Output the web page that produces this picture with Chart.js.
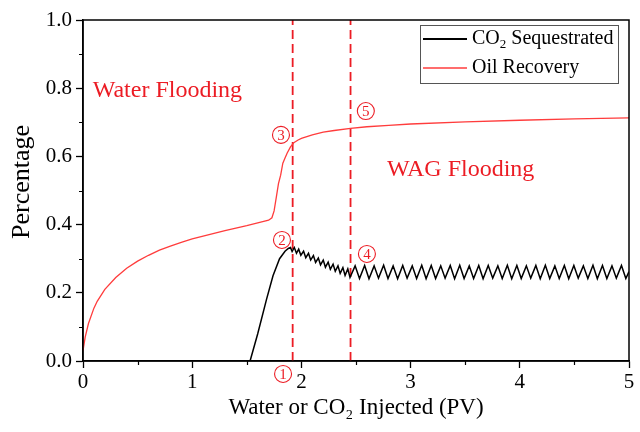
<!DOCTYPE html>
<html>
<head>
<meta charset="utf-8">
<script src="https://cdn.jsdelivr.net/npm/chart.js@4.4.1/dist/chart.umd.min.js"></script>
<style>
  html, body { margin: 0; padding: 0; background: #fff; }
  #wrap { width: 640px; height: 432px; }
</style>
</head>
<body>
<div id="wrap"><canvas id="c" width="640" height="432"></canvas></div>
<script>
// Oil recovery vs. injected pore volumes
const oilX = [0, 0.02, 0.05, 0.10, 0.13, 0.20, 0.30, 0.40, 0.50, 0.60, 0.70, 0.80, 0.90, 1.00,
  1.10, 1.20, 1.30, 1.40, 1.50, 1.60, 1.70, 1.73, 1.75, 1.77, 1.79, 1.81, 1.83, 1.85, 1.87,
  1.90, 1.93, 1.97, 2.00, 2.10, 2.20, 2.30, 2.45, 2.60, 2.80, 3.00, 3.50, 4.00, 4.50, 5.00];
const oilY = [0.030, 0.070, 0.110, 0.155, 0.175, 0.210, 0.245, 0.272, 0.293, 0.310, 0.325, 0.337, 0.348, 0.358,
  0.366, 0.374, 0.382, 0.390, 0.397, 0.405, 0.413, 0.420, 0.440, 0.480, 0.520, 0.545, 0.580, 0.595, 0.610,
  0.628, 0.640, 0.648, 0.653, 0.663, 0.671, 0.676, 0.682, 0.687, 0.691, 0.695, 0.701, 0.706, 0.710, 0.713];

// CO2 sequestered fraction (WAG cycles after breakthrough)
const co2X = [1.53, 1.60, 1.68, 1.74, 1.80, 1.85, 1.88, 1.90,
  1.915, 1.935, 1.955, 1.975, 1.995, 2.020, 2.040, 2.065, 2.085, 2.110, 2.130, 2.155,
  2.175, 2.200, 2.220, 2.245, 2.265, 2.290, 2.310, 2.335, 2.355, 2.380, 2.400, 2.425, 2.445,
  2.492, 2.532, 2.579, 2.619, 2.666, 2.706, 2.753, 2.793, 2.840, 2.881, 2.928, 2.968,
  3.015, 3.055, 3.102, 3.142, 3.189, 3.229, 3.276, 3.316, 3.363, 3.403, 3.450, 3.490,
  3.537, 3.577, 3.624, 3.664, 3.711, 3.752, 3.799, 3.839, 3.886, 3.926, 3.973, 4.013,
  4.060, 4.100, 4.147, 4.187, 4.234, 4.274, 4.321, 4.361, 4.408, 4.448, 4.495, 4.535,
  4.582, 4.623, 4.670, 4.710, 4.757, 4.797, 4.844, 4.884, 4.931, 4.971, 5.000];
const co2Y = [0.000, 0.080, 0.180, 0.250, 0.300, 0.322, 0.330, 0.333,
  0.321, 0.333, 0.316, 0.328, 0.310, 0.322, 0.303, 0.316, 0.296, 0.309, 0.289, 0.302,
  0.282, 0.296, 0.275, 0.290, 0.269, 0.284, 0.263, 0.279, 0.257, 0.274, 0.251, 0.270, 0.245,
  0.279, 0.242, 0.280, 0.241, 0.279, 0.243, 0.281, 0.242, 0.279, 0.241, 0.280, 0.243,
  0.279, 0.242, 0.281, 0.241, 0.280, 0.242, 0.279, 0.243, 0.280, 0.241, 0.281, 0.242,
  0.279, 0.242, 0.280, 0.241, 0.280, 0.243, 0.279, 0.242, 0.281, 0.241, 0.280, 0.242,
  0.279, 0.243, 0.280, 0.241, 0.281, 0.242, 0.279, 0.242, 0.280, 0.241, 0.280, 0.243,
  0.279, 0.242, 0.281, 0.241, 0.280, 0.242, 0.279, 0.243, 0.280, 0.242, 0.262];

// Stage boundaries (PV) and axis ticks
const boundaryX = [1.92, 2.45];
const xMajorTicks = [0, 1, 2, 3, 4, 5];
const yMajorTicks = [0, 0.2, 0.4, 0.6, 0.8, 1.0];
const xMinorTicks = [0.5, 1.5, 2.5, 3.5, 4.5];
const yMinorTicks = [0.1, 0.3, 0.5, 0.7, 0.9];

// Labels
const seriesLabels = ['CO2 Sequestrated', 'Oil Recovery'];
const yTitle = 'Percentage';
const stageLabels = [
  { text: 'Water Flooding', x: 0.089, y: 0.775 },
  { text: 'WAG Flooding', x: 2.784, y: 0.543 }
];
const pointMarks = [
  { n: '1', x: 1.832, y: -0.038 },
  { n: '2', x: 1.822, y: 0.355 },
  { n: '3', x: 1.813, y: 0.663 },
  { n: '4', x: 2.600, y: 0.314 },
  { n: '5', x: 2.590, y: 0.733 }
];

const SERIF = '"Liberation Serif", "Times New Roman", serif';
const RED = 'rgb(236, 28, 36)';
const OIL = 'rgb(255, 60, 60)';

const toPts = (xs, ys) => xs.map((x, i) => ({ x, y: ys[i] }));

const datasets = [
  { label: seriesLabels[0], data: toPts(co2X, co2Y), borderColor: '#000', borderWidth: 1.5 },
  { label: seriesLabels[1], data: toPts(oilX, oilY), borderColor: OIL, borderWidth: 1.3 }
];
boundaryX.forEach(bx => {
  datasets.push({
    label: 'boundary', data: [{ x: bx, y: 0 }, { x: bx, y: 1 }],
    borderColor: RED, borderWidth: 1.8, borderDash: [9, 5]
  });
});
datasets.forEach(d => { d.showLine = true; d.pointRadius = 0; d.tension = 0; d.fill = false; });

// Frame, minor ticks, y title, legend and annotations
const decor = {
  id: 'decor',
  afterDraw(chart) {
    const { ctx, chartArea: a, scales: { x, y } } = chart;
    ctx.save();
    // box frame
    ctx.strokeStyle = '#000';
    ctx.lineWidth = 1.5;
    ctx.strokeRect(a.left, a.top, a.right - a.left, a.bottom - a.top);
    // minor ticks
    ctx.lineWidth = 1.2;
    ctx.beginPath();
    xMinorTicks.forEach(v => {
      const px = Math.round(x.getPixelForValue(v)) + 0.5;
      ctx.moveTo(px, a.bottom); ctx.lineTo(px, a.bottom + 4);
    });
    yMinorTicks.forEach(v => {
      const py = Math.round(y.getPixelForValue(v)) + 0.5;
      ctx.moveTo(a.left, py); ctx.lineTo(a.left - 4, py);
    });
    ctx.stroke();

    // y axis title
    ctx.save();
    ctx.translate(22, y.getPixelForValue(0.525));
    ctx.rotate(-Math.PI / 2);
    ctx.fillStyle = '#000';
    ctx.font = '26px ' + SERIF;
    ctx.textAlign = 'center';
    ctx.textBaseline = 'middle';
    ctx.fillText(yTitle, 0, 0);
    ctx.restore();

    // stage labels
    ctx.fillStyle = RED;
    ctx.font = '24px ' + SERIF;
    ctx.textBaseline = 'alphabetic';
    ctx.textAlign = 'left';
    stageLabels.forEach(s => {
      ctx.fillText(s.text, x.getPixelForValue(s.x), y.getPixelForValue(s.y));
    });

    // circled point numbers
    ctx.strokeStyle = RED;
    ctx.lineWidth = 1.1;
    ctx.font = '15px ' + SERIF;
    ctx.textAlign = 'center';
    ctx.textBaseline = 'middle';
    pointMarks.forEach(p => {
      const cx = x.getPixelForValue(p.x), cy = y.getPixelForValue(p.y);
      ctx.beginPath();
      ctx.arc(cx, cy, 8.5, 0, Math.PI * 2);
      ctx.stroke();
      ctx.fillText(p.n, cx, cy + 1);
    });

    // legend
    const lx = 420, ly = 25, lw = 198, lh = 58;
    ctx.strokeStyle = '#555';
    ctx.lineWidth = 1;
    ctx.strokeRect(lx + 0.5, ly + 0.5, lw, lh);
    const rows = [
      { y: ly + 14, color: datasets[0].borderColor, width: 2, parts: ['CO', '2', ' Sequestrated'] },
      { y: ly + 43, color: datasets[1].borderColor, width: 1.5, parts: ['Oil Recovery'] }
    ];
    rows.forEach(r => {
      ctx.strokeStyle = r.color;
      ctx.lineWidth = r.width;
      ctx.beginPath();
      ctx.moveTo(lx + 3, r.y); ctx.lineTo(lx + 47, r.y);
      ctx.stroke();
      ctx.fillStyle = '#000';
      ctx.textAlign = 'left';
      ctx.textBaseline = 'middle';
      let tx = lx + 52;
      if (r.parts.length === 3) {
        ctx.font = '20px ' + SERIF;
        ctx.fillText(r.parts[0], tx, r.y);
        tx += ctx.measureText(r.parts[0]).width;
        ctx.font = '13px ' + SERIF;
        ctx.fillText(r.parts[1], tx, r.y + 6);
        tx += ctx.measureText(r.parts[1]).width;
        ctx.font = '20px ' + SERIF;
        ctx.fillText(r.parts[2], tx, r.y);
      } else {
        ctx.font = '20px ' + SERIF;
        ctx.fillText(r.parts[0], tx, r.y);
      }
    });
    ctx.restore();
  }
};

new Chart(document.getElementById('c'), {
  type: 'scatter',
  data: { datasets },
  options: {
    responsive: false,
    animation: false,
    events: [],
    layout: { padding: { top: 20, right: 11, left: 0, bottom: 0 } },
    plugins: { legend: { display: false }, tooltip: { enabled: false } },
    scales: {
      x: {
        type: 'linear', min: 0, max: 5,
        afterBuildTicks: s => { s.ticks = xMajorTicks.map(v => ({ value: v })); },
        afterFit: s => { s.height = 71; },
        ticks: { color: '#000', font: { family: SERIF, size: 21 }, padding: 2, maxRotation: 0,
          callback: v => String(v) },
        grid: { drawOnChartArea: false, tickLength: 7, tickColor: '#000', tickWidth: 1.3 },
        border: { color: '#000', width: 1.5 },
        title: { display: true, text: 'Water or CO₂ Injected (PV)', color: '#000',
          font: { family: SERIF, size: 23 }, padding: { top: 4, bottom: 10 } }
      },
      y: {
        type: 'linear', min: 0, max: 1,
        afterBuildTicks: s => { s.ticks = yMajorTicks.map(v => ({ value: v })); },
        afterFit: s => { s.width = 83; },
        ticks: { color: '#000', font: { family: SERIF, size: 21 }, padding: 4,
          callback: v => v.toFixed(1) },
        grid: { drawOnChartArea: false, tickLength: 7, tickColor: '#000', tickWidth: 1.3 },
        border: { color: '#000', width: 1.5 }
      }
    }
  },
  plugins: [decor]
});
</script>
</body>
</html>
